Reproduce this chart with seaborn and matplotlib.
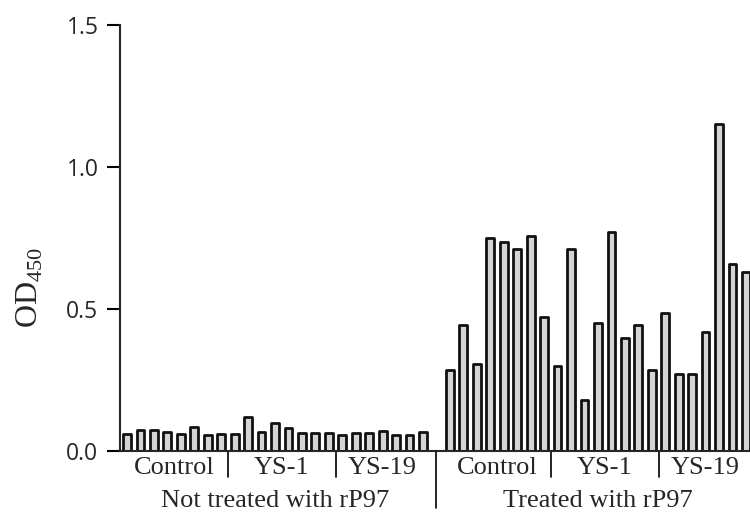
import matplotlib
matplotlib.use("Agg")
import matplotlib.pyplot as plt
import matplotlib.transforms as mtransforms
import seaborn as sns
import pandas as pd

# OD450 readings, one list per sample group
not_treated_control = [0.061, 0.075, 0.075, 0.068, 0.061, 0.085, 0.055, 0.061]
not_treated_ys1 = [0.061, 0.120, 0.068, 0.099, 0.082, 0.064, 0.064, 0.064]
not_treated_ys19 = [0.058, 0.064, 0.064, 0.070, 0.055, 0.058, 0.068]
treated_control = [0.284, 0.443, 0.308, 0.750, 0.735, 0.710, 0.756, 0.472]
treated_ys1 = [0.299, 0.710, 0.178, 0.451, 0.771, 0.398, 0.443, 0.284]
treated_ys19 = [0.487, 0.270, 0.270, 0.419, 1.153, 0.660, 0.630]

treatments = ["Not treated with rP97", "Treated with rP97"]
sera = ["Control", "YS-1", "YS-19"]
series = [[not_treated_control, not_treated_ys1, not_treated_ys19],
          [treated_control, treated_ys1, treated_ys19]]

y_ticks = [0.0, 0.5, 1.0, 1.5]

# build a long table, one slot per bar, an empty slot between treatments
rows = []
group_spans = []
sub_spans = []
slot = 0
for t, groups in zip(treatments, series):
    start = slot
    for s, vals in zip(sera, groups):
        sub_start = slot
        for v in vals:
            rows.append({"treatment": t, "serum": s, "pos": slot, "od": v})
            slot += 1
        sub_spans.append((s, sub_start, slot - 1))
    group_spans.append((t, start, slot - 1))
    slot += 1
df = pd.DataFrame(rows)

sns.set_style("ticks")
plt.rcParams["font.family"] = ["Liberation Serif", "DejaVu Serif"]
plt.rcParams["mathtext.fontset"] = "custom"
plt.rcParams["mathtext.rm"] = "Liberation Serif"

fig = plt.figure(figsize=(7.5, 5.14), dpi=100)
ax = fig.add_axes([0.16, 0.1226, 0.84, 0.8288])

sns.barplot(data=df, x="pos", y="od", native_scale=True, width=0.58,
            color="#d4d4d4", saturation=1, edgecolor="#111111", linewidth=2.0,
            errorbar=None, ax=ax)
for p in ax.patches:
    p.set_joinstyle("round")

ax.set_xlim(-0.52, df["pos"].max() + 0.3)
ax.set_ylim(0, 1.5)
ax.set_yticks(y_ticks)
ax.set_yticklabels([f"{v:.1f}" for v in y_ticks], family="Open Sans", fontsize=16.5)
ax.set_xticks([])
ax.set_xlabel("")
ax.set_ylabel("")
ax.tick_params(axis="y", length=9.5, width=1.5, color="black", pad=6)

sns.despine(ax=ax)
ax.spines["left"].set_linewidth(1.5)
ax.spines["bottom"].set_linewidth(1.5)
ax.spines["left"].set_bounds(0, 1.5)

trans = mtransforms.blended_transform_factory(ax.transData, ax.transAxes)

# sub-group labels and short dividers
for name, a, b in sub_spans:
    ax.text((a + b) / 2, -0.04, name, transform=trans, ha="center", va="center",
            fontsize=19)
for i in range(len(sub_spans) - 1):
    if sub_spans[i + 1][1] - sub_spans[i][2] == 1:
        x = (sub_spans[i][2] + sub_spans[i + 1][1]) / 2
        ax.plot([x, x], [0, -0.062], transform=trans, color="black", lw=1.2,
                clip_on=False)

# treatment labels and long divider
for name, a, b in group_spans:
    ax.text((a + b) / 2, -0.118, name, transform=trans, ha="center", va="center",
            fontsize=19)
x = (group_spans[0][2] + group_spans[1][1]) / 2
ax.plot([x, x], [0, -0.135], transform=trans, color="black", lw=1.2, clip_on=False)

fig.text(0.04, 0.44, r"OD$_{450}$", rotation=90, ha="center", va="center",
         fontsize=23)

fig.savefig("out.png", dpi=100)
